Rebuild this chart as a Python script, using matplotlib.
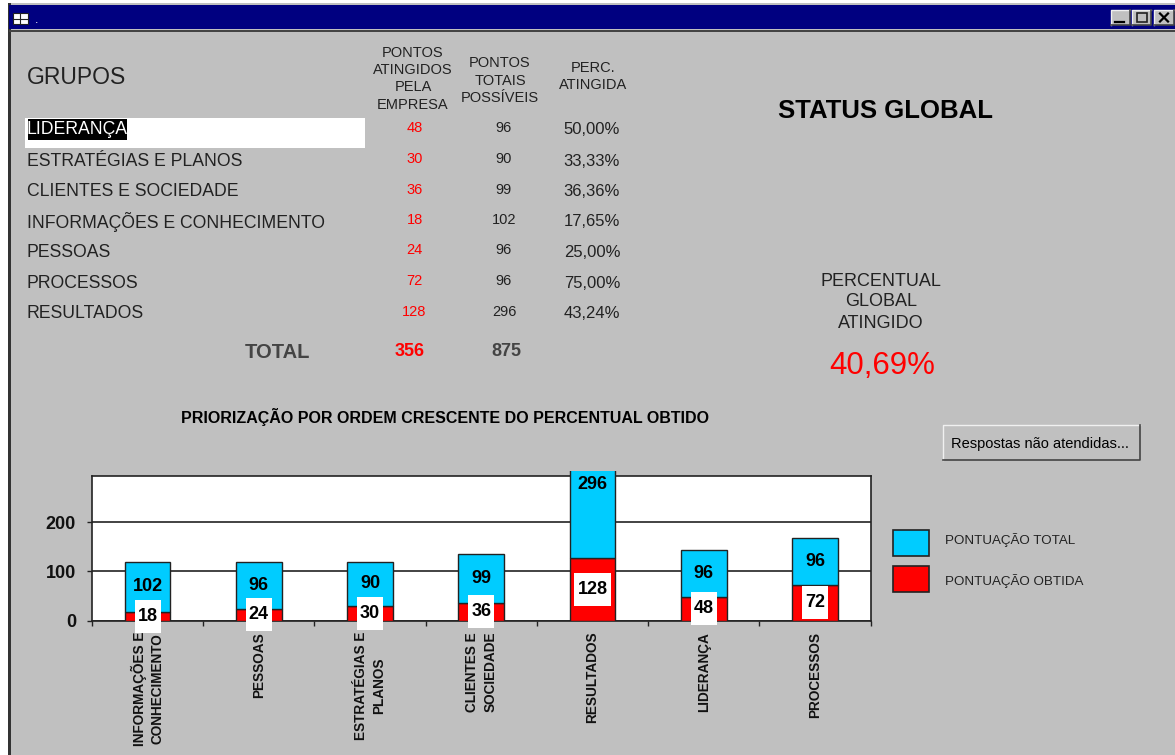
import matplotlib
matplotlib.use("Agg")
import matplotlib.pyplot as plt
from matplotlib.patches import Rectangle
from matplotlib.transforms import Affine2D

plt.rcParams['font.family'] = ['Liberation Sans', 'DejaVu Sans']

# table at the top
grupos = ["LIDERANÇA", "ESTRATÉGIAS E PLANOS", "CLIENTES E SOCIEDADE", "INFORMAÇÕES E CONHECIMENTO",
          "PESSOAS", "PROCESSOS", "RESULTADOS"]
atingidos = [48, 30, 36, 18, 24, 72, 128]
totais = [96, 90, 99, 102, 96, 96, 296]
percentuais = ["50,00%", "33,33%", "36,36%", "17,65%", "25,00%", "75,00%", "43,24%"]
total_atingidos = 356
total_possiveis = 875
percentual_global = "40,69%"

# chart at the bottom
categorias = ["INFORMAÇÕES E\nCONHECIMENTO", "PESSOAS", "ESTRATÉGIAS E\nPLANOS", "CLIENTES E\nSOCIEDADE",
              "RESULTADOS", "LIDERANÇA", "PROCESSOS"]
obtida = [18, 24, 30, 36, 128, 48, 72]
total = [102, 96, 90, 99, 296, 96, 96]
y_ticks = [0, 100, 200]

CINZA = "#C0C0C0"
AZUL = "#00CCFF"
VERMELHO = "#FF0000"
ESCURO = "#222222"

fig = plt.figure(figsize=(11.75, 7.55), dpi=100, facecolor="white")

# window drawn in pixels of the screenshot
bg = fig.add_axes([0, 0, 1, 1], zorder=0)
bg.set_xlim(0, 1175)
bg.set_ylim(755, 0)
bg.axis("off")


def caixa(x0, y0, x1, y1, **kw):
    kw.setdefault("linewidth", 0)
    bg.add_patch(Rectangle((x0, y0), x1 - x0, y1 - y0, **kw))


def botao(x0, y0, x1, y1):
    caixa(x0, y0, x1, y1, facecolor=CINZA)
    bg.plot([x0, x0, x1], [y1, y0, y0], color="#F0F0F0", lw=1)
    bg.plot([x0, x1, x1], [y1, y1, y0], color="#444444", lw=1.2)


caixa(8, 3, 1175, 755, facecolor=CINZA)
caixa(8, 3, 10.5, 755, facecolor="#333333")
caixa(9, 5, 1175, 29, facecolor="#000080")
caixa(9, 30, 1175, 32, facecolor="#444444")

# title bar
caixa(13, 13, 28, 24, facecolor="white", edgecolor="#222222", linewidth=0.8)
bg.plot([20, 20], [13, 24], color="#222222", lw=0.8)
bg.plot([13, 28], [18.5, 18.5], color="#222222", lw=0.8)
bg.text(35, 20, ".", color="white", fontsize=9, ha="left", va="center")
botao(1111, 10, 1130, 25)
bg.plot([1115, 1124], [21.5, 21.5], color="black", lw=1.6)
botao(1132, 10, 1151, 25)
caixa(1137, 13, 1147, 22, facecolor="none", edgecolor="#222222", linewidth=1.2)
botao(1154, 10, 1174, 25)
bg.plot([1160, 1168], [13.5, 21.5], color="black", lw=1.6)
bg.plot([1160, 1168], [21.5, 13.5], color="black", lw=1.6)

# headers
TXT = "#222222"
bg.text(27, 77, "GRUPOS", fontsize=16.5, color=TXT, ha="left", va="center")
for y, s in zip([53, 70, 87, 105], ["PONTOS", "ATINGIDOS", "PELA", "EMPRESA"]):
    bg.text(413, y, s, fontsize=10.5, color=TXT, ha="center", va="center")
for y, s in zip([63, 81, 98], ["PONTOS", "TOTAIS", "POSSÍVEIS"]):
    bg.text(500, y, s, fontsize=10.5, color=TXT, ha="center", va="center")
for y, s in zip([68, 85], ["PERC.", "ATINGIDA"]):
    bg.text(593, y, s, fontsize=10.5, color=TXT, ha="center", va="center")

# rows
caixa(25, 118, 365, 148, facecolor="white")
linhas = [130, 161, 191.5, 222, 252.5, 283, 313.5]
for i, y in enumerate(linhas):
    if i == 0:
        caixa(28, 119, 127, 140, facecolor="black")
        bg.text(27, y, grupos[i], fontsize=12.7, color="white", ha="left", va="center")
    else:
        bg.text(27, y, grupos[i], fontsize=12.7, color=TXT, ha="left", va="center")
    bg.text(414.5, y - 2, str(atingidos[i]), fontsize=10.5, color=VERMELHO, ha="center", va="center")
    bg.text(504, y - 2, str(totais[i]), fontsize=10.5, color=TXT, ha="center", va="center")
    bg.text(592, y, percentuais[i], fontsize=12, color=TXT, ha="center", va="center")

bg.text(277, 352, "TOTAL", fontsize=14.5, color="#444444", ha="center", va="center", fontweight="bold")
bg.text(410, 352, str(total_atingidos), fontsize=13, color=VERMELHO, ha="center", va="center", fontweight="bold")
bg.text(506, 352, str(total_possiveis), fontsize=13, color="#444444", ha="center", va="center", fontweight="bold")

# right side
bg.text(886, 111, "STATUS GLOBAL", fontsize=18.5, color="black", ha="center", va="center", fontweight="bold")
for y, s in zip([281, 302, 323], ["PERCENTUAL", "GLOBAL", "ATINGIDO"]):
    bg.text(881, y, s, fontsize=13, color=TXT, ha="center", va="center")
bg.text(882, 366, percentual_global, fontsize=22.5, color=VERMELHO, ha="center", va="center")

bg.text(445, 417, "PRIORIZAÇÃO POR ORDEM CRESCENTE DO PERCENTUAL OBTIDO", fontsize=11.5, color="black",
        ha="center", va="center", fontweight="bold")

botao(943, 425, 1140, 460)
bg.text(1040, 444, "Respostas não atendidas...", fontsize=10.5, color="black", ha="center", va="center")

# legend
caixa(893, 530, 929, 556, facecolor=AZUL, edgecolor=ESCURO, linewidth=1.2)
caixa(893, 566, 929, 592, facecolor=VERMELHO, edgecolor=ESCURO, linewidth=1.2)
bg.text(945, 540.5, "PONTUAÇÃO TOTAL", fontsize=9.6, color=TXT, ha="left", va="center")
bg.text(945, 581.5, "PONTUAÇÃO OBTIDA", fontsize=9.6, color=TXT, ha="left", va="center")

# stacked bars
ax = fig.add_axes([92 / 1175, (755 - 620.7) / 755, 778.6 / 1175, 145 / 755], zorder=1, facecolor="white")
xs = list(range(len(categorias)))
b_obtida = ax.bar(xs, obtida, width=0.41, color=VERMELHO, edgecolor=ESCURO, linewidth=1, zorder=3)
b_total = ax.bar(xs, total, width=0.41, bottom=obtida, color=AZUL, edgecolor=ESCURO, linewidth=1, zorder=3)
ax.set_xlim(-0.5, len(categorias) - 0.5)
ax.set_ylim(0, 294)

# the tall bar runs a little past the frame
for b in b_total:
    b.set_clip_path(Rectangle((0, 0), 1, 1.033, transform=ax.transAxes))

ax.set_yticks(y_ticks)
ax.set_yticklabels([str(v) for v in y_ticks], fontsize=13, fontweight="bold", color="#111111")
ax.tick_params(axis="y", length=3.5, width=1, color=ESCURO, pad=8)
ax.set_xticks([x - 0.5 for x in xs] + [len(xs) - 0.5])
ax.set_xticklabels([])
ax.tick_params(axis="x", which="major", length=3.5, width=1, color=ESCURO)
ax.set_xticks(xs, minor=True)
ax.set_xticklabels(categorias, minor=True, rotation=90, fontsize=9.8, fontweight="bold", color="#111111",
                   ha="center", va="top", multialignment="center", linespacing=1.35)
ax.tick_params(axis="x", which="minor", length=0, pad=8)
ax.set_axisbelow(True)
ax.yaxis.grid(True, color=ESCURO, linewidth=1.2)
for s in ax.spines.values():
    s.set_color(ESCURO)
    s.set_linewidth(1.2)

# labels sit mid segment, white boxes are taller than wide so not a text bbox
for x, o, t in zip(xs, obtida, total):
    ax.text(x, o + t / 2, str(t), fontsize=13, fontweight="bold", color="black", ha="center", va="center", zorder=6)
    ax.text(x, o / 2, str(o), fontsize=13, fontweight="bold", color="black", ha="center", va="center", zorder=6)
    px, py = ax.transData.transform((x, o / 2))
    w = 37 if o >= 100 else 26
    ax.add_patch(Rectangle((-w / 2, -16.5), w, 33, facecolor="white", linewidth=0, zorder=5, clip_on=False,
                           transform=Affine2D().translate(px, py)))

fig.savefig("out.png", dpi=100, facecolor=fig.get_facecolor())
